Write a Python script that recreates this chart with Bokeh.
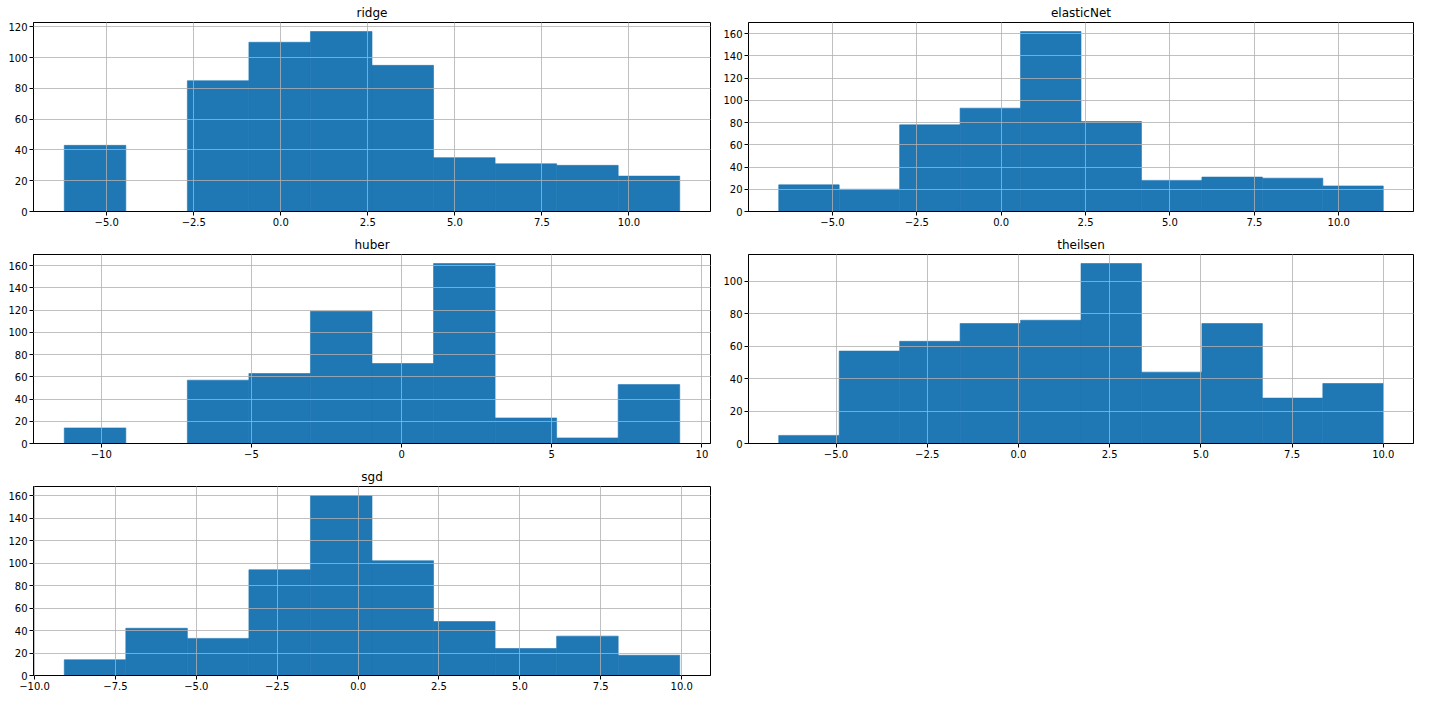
from bokeh.plotting import figure
from bokeh.layouts import column, row
from bokeh.models import FixedTicker, Range1d
from bokeh.embed import file_html
from bokeh.resources import INLINE
import numpy as np

# ---- data (10 equal-width bins per series) ----
names = ["ridge", "elasticNet", "huber", "theilsen", "sgd"]

ridge_counts = [43, 0, 85, 110, 117, 95, 35, 31, 30, 23]
ridge_min, ridge_max = -6.22, 11.46

elastic_counts = [24, 20, 78, 93, 162, 81, 28, 31, 30, 23]
elastic_min, elastic_max = -6.59, 11.32

huber_counts = [14, 0, 57, 63, 119, 72, 162, 23, 5, 53]
huber_min, huber_max = -11.23, 9.26

theilsen_counts = [5, 57, 63, 74, 76, 111, 44, 74, 28, 37]
theilsen_min, theilsen_max = -6.57, 10.0

sgd_counts = [14, 42, 33, 94, 160, 102, 48, 24, 35, 18]
sgd_min, sgd_max = -9.08, 9.94

# tick values / labels
xt_25 = [-5.0, -2.5, 0.0, 2.5, 5.0, 7.5, 10.0]
xl_25 = ["\u22125.0", "\u22122.5", "0.0", "2.5", "5.0", "7.5", "10.0"]
xt_huber = [-10, -5, 0, 5, 10]
xl_huber = ["\u221210", "\u22125", "0", "5", "10"]
xt_sgd = [-10.0, -7.5, -5.0, -2.5, 0.0, 2.5, 5.0, 7.5, 10.0]
xl_sgd = ["\u221210.0", "\u22127.5", "\u22125.0", "\u22122.5", "0.0", "2.5", "5.0", "7.5", "10.0"]
yt_120 = [0, 20, 40, 60, 80, 100, 120]
yt_160 = [0, 20, 40, 60, 80, 100, 120, 140, 160]
yt_100 = [0, 20, 40, 60, 80, 100]

BAR = "#1f77b4"
FONT = "DejaVu Sans"


def make_hist(title, counts, vmin, vmax, xt, xl, yt, w, h, bl, br, bt, bb):
    edges = np.linspace(vmin, vmax, len(counts) + 1)
    span = vmax - vmin
    p = figure(width=w, height=h, output_backend="svg", toolbar_location=None,
               x_range=Range1d(vmin - 0.05 * span, vmax + 0.05 * span),
               y_range=Range1d(0, max(counts) * 1.05),
               min_border_left=bl, min_border_right=br,
               min_border_top=bt, min_border_bottom=bb)
    p.quad(left=edges[:-1], right=edges[1:], bottom=0, top=counts,
           fill_color=BAR, line_color=BAR, line_width=0.6)
    p.title.text = title
    p.title.align = "center"
    p.title.text_font = FONT
    p.title.text_font_size = "12px"
    p.title.text_font_style = "normal"
    p.title.text_color = "black"
    p.title.standoff = 6
    p.title.offset = 0

    p.xaxis.ticker = FixedTicker(ticks=xt)
    p.xaxis.major_label_overrides = {v: s for v, s in zip(xt, xl)}
    p.yaxis.ticker = FixedTicker(ticks=yt)
    p.yaxis.major_label_overrides = {v: str(v) for v in yt}
    p.xgrid.ticker = FixedTicker(ticks=xt)
    p.ygrid.ticker = FixedTicker(ticks=yt)
    for ax in (p.xaxis, p.yaxis):
        ax.axis_line_color = "black"
        ax.axis_line_width = 1
        ax.major_tick_line_color = "black"
        ax.major_tick_line_width = 1
        ax.major_tick_out = 4
        ax.major_tick_in = 0
        ax.minor_tick_line_color = None
        ax.major_label_text_font = FONT
        ax.major_label_text_font_size = "10px"
        ax.major_label_text_color = "black"
        ax.major_label_standoff = 2
    for g in (p.xgrid, p.ygrid):
        g.grid_line_color = "#b0b0b0"
        g.grid_line_width = 0.8
        g.level = "overlay"
    p.outline_line_color = "black"
    p.outline_line_width = 1
    p.outline_line_alpha = 1
    p.background_fill_color = "white"
    p.border_fill_color = "white"
    return p


W1, W2 = 714, 702
H = 232
p1 = make_hist(names[0], ridge_counts, ridge_min, ridge_max, xt_25, xl_25, yt_120,
               W1, H, 33, 4, 22, 21)
p2 = make_hist(names[1], elastic_counts, elastic_min, elastic_max, xt_25, xl_25, yt_160,
               W2, H, 34, 3, 22, 21)
p3 = make_hist(names[2], huber_counts, huber_min, huber_max, xt_huber, xl_huber, yt_160,
               W1, H, 33, 4, 22, 21)
p4 = make_hist(names[3], theilsen_counts, theilsen_min, theilsen_max, xt_25, xl_25, yt_100,
               W2, H, 34, 3, 22, 21)
p5 = make_hist(names[4], sgd_counts, sgd_min, sgd_max, xt_sgd, xl_sgd, yt_160,
               W1, H, 33, 4, 22, 21)

layout = column(row(p1, p2), row(p3, p4), row(p5))
open("out.html", "w").write(file_html(layout, INLINE))
